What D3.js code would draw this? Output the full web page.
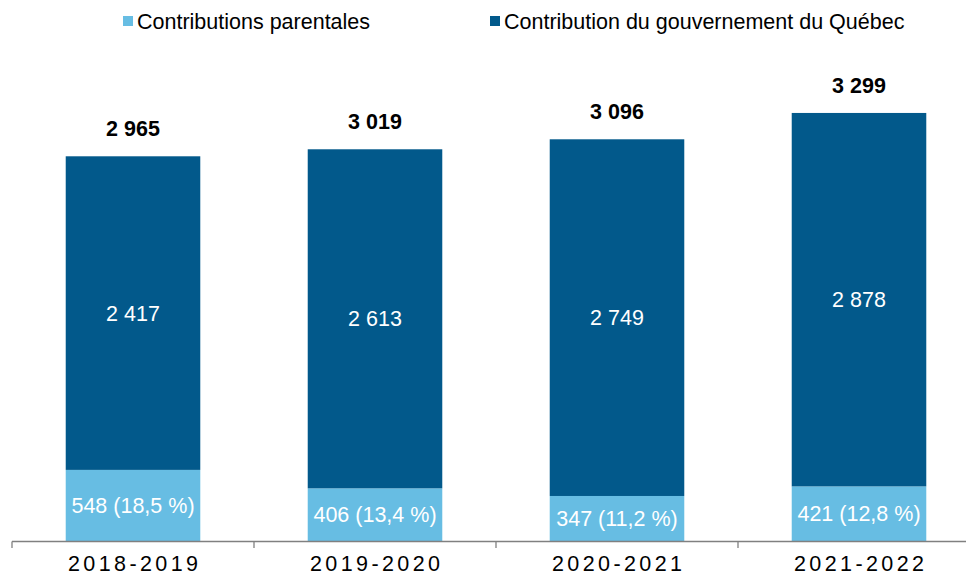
<!DOCTYPE html>
<html>
<head>
<meta charset="utf-8">
<script src="https://cdn.jsdelivr.net/npm/d3@7"></script>
<style>
  html, body { margin: 0; padding: 0; background: #fff; }
  svg { display: block; font-family: "Liberation Sans", Arial, sans-serif; }
</style>
</head>
<body>
<svg id="chart" width="966" height="576"></svg>
<script>
// Financement des services de garde (M$) par année
const years = ["2018-2019", "2019-2020", "2020-2021", "2021-2022"];
const parental = [548, 406, 347, 421];
const government = [2417, 2613, 2749, 2878];
const totals = [2965, 3019, 3096, 3299];
const parentalShare = ["18,5", "13,4", "11,2", "12,8"];
const seriesNames = ["Contributions parentales", "Contribution du gouvernement du Québec"];

const colorLight = "#67bde3";
const colorDark = "#02598b";
const fontSize = 21.5;

// French thousands separator (space)
const fmt = v => d3.format(",")(v).replace(/,/g, " ");

const svg = d3.select("#chart");

const x = d3.scaleBand()
  .domain(years)
  .range([12, 980])
  .paddingInner(0.444)
  .paddingOuter(0.222);

const y = d3.scaleLinear()
  .domain([0, 4000])
  .range([541, 22]);

const rows = years.map((yr, i) => ({
  year: yr,
  parental: parental[i],
  government: government[i],
  total: totals[i],
  share: parentalShare[i]
}));

const stack = d3.stack().keys(["parental", "government"]);
const layers = stack(rows);
const colors = [colorLight, colorDark];

svg.append("g")
  .selectAll("g")
  .data(layers)
  .join("g")
  .attr("fill", (d, i) => colors[i])
  .selectAll("rect")
  .data(d => d)
  .join("rect")
  .attr("x", d => x(d.data.year))
  .attr("width", x.bandwidth())
  .attr("y", d => y(d[1]))
  .attr("height", d => y(d[0]) - y(d[1]));

// Segment labels
const labels = svg.append("g")
  .attr("font-size", fontSize)
  .attr("fill", "#fff")
  .attr("text-anchor", "middle");

labels.selectAll("text.gov")
  .data(layers[1])
  .join("text")
  .attr("class", "gov")
  .attr("x", d => x(d.data.year) + x.bandwidth() / 2)
  .attr("y", d => (y(d[0]) + y(d[1])) / 2)
  .attr("dy", "0.35em")
  .text(d => fmt(d.data.government));

labels.selectAll("text.par")
  .data(layers[0])
  .join("text")
  .attr("class", "par")
  .attr("x", d => x(d.data.year) + x.bandwidth() / 2)
  .attr("y", d => (y(d[0]) + y(d[1])) / 2)
  .attr("dy", "0.35em")
  .text(d => `${fmt(d.data.parental)} (${d.data.share} %)`);

// Totals above bars
svg.append("g")
  .attr("font-size", fontSize)
  .attr("font-weight", "bold")
  .attr("fill", "#000")
  .attr("text-anchor", "middle")
  .selectAll("text")
  .data(rows)
  .join("text")
  .attr("x", d => x(d.year) + x.bandwidth() / 2)
  .attr("y", d => y(d.total) - 20)
  .text(d => fmt(d.total));

// Category axis
const step = x.step();
const axis = svg.append("g").attr("stroke", "#808080").attr("stroke-width", 1.3);
axis.append("line")
  .attr("x1", 12).attr("x2", 966)
  .attr("y1", y(0) + 0.5).attr("y2", y(0) + 0.5);
axis.selectAll("line.tick")
  .data(years)
  .join("line")
  .attr("class", "tick")
  .attr("x1", d => x(d) - step * x.paddingInner() / 2)
  .attr("x2", d => x(d) - step * x.paddingInner() / 2)
  .attr("y1", y(0) + 0.5)
  .attr("y2", y(0) + 7);

svg.append("g")
  .attr("font-size", fontSize)
  .attr("fill", "#000")
  .attr("text-anchor", "middle")
  .attr("letter-spacing", "3.4px")
  .selectAll("text")
  .data(years)
  .join("text")
  .attr("x", d => x(d) + x.bandwidth() / 2 + 1.7)
  .attr("y", 571)
  .text(d => d);

// Legend
const legendItems = [
  { name: seriesNames[0], color: colorLight, x: 123 },
  { name: seriesNames[1], color: colorDark, x: 490 }
];
const legend = svg.append("g");
const li = legend.selectAll("g")
  .data(legendItems)
  .join("g")
  .attr("transform", d => `translate(${d.x},0)`);
li.append("rect")
  .attr("x", 0).attr("y", 16)
  .attr("width", 10).attr("height", 10)
  .attr("fill", d => d.color);
li.append("text")
  .attr("x", 14)
  .attr("y", 29)
  .attr("font-size", fontSize)
  .attr("fill", "#000")
  .text(d => d.name);
</script>
</body>
</html>
